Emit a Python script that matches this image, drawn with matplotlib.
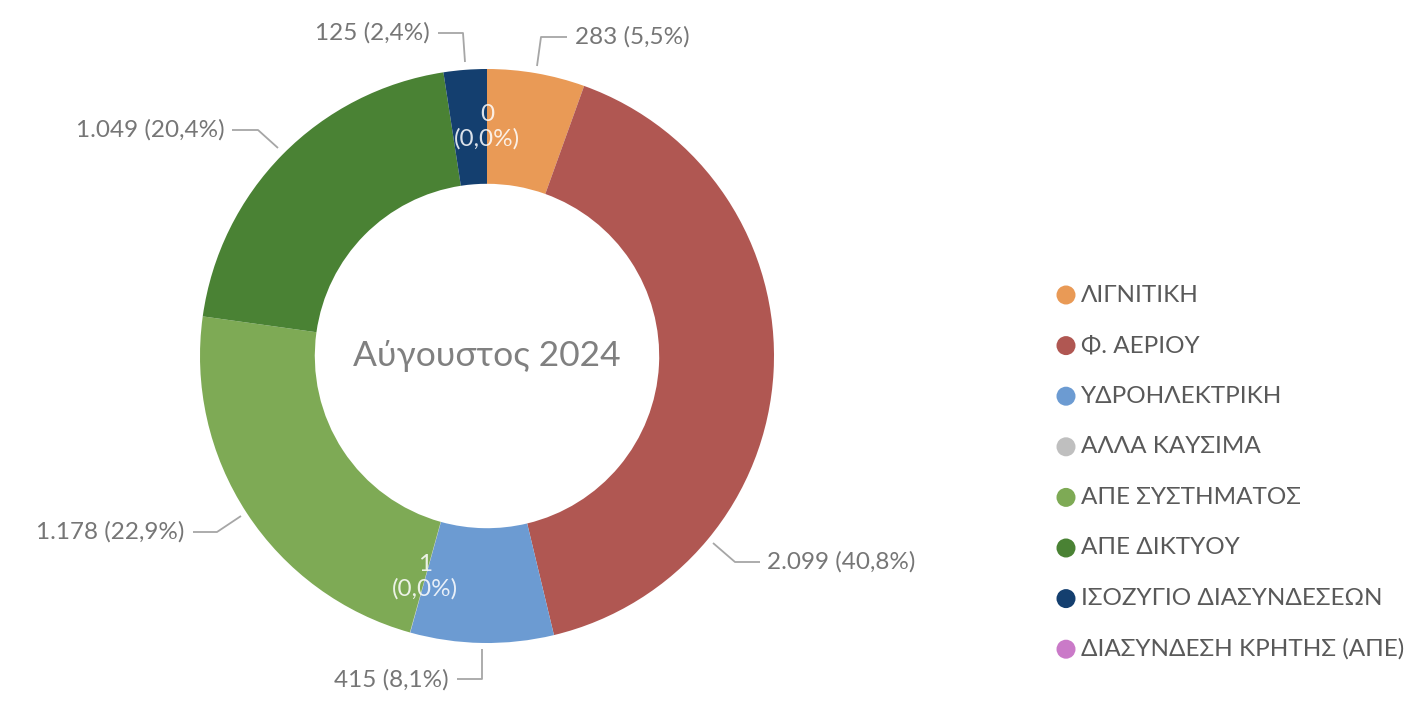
import matplotlib
matplotlib.use("Agg")
import matplotlib.pyplot as plt
from matplotlib.patches import Circle

categories = ["ΛΙΓΝΙΤΙΚΗ", "Φ. ΑΕΡΙΟΥ", "ΥΔΡΟΗΛΕΚΤΡΙΚΗ", "ΑΛΛΑ ΚΑΥΣΙΜΑ",
              "ΑΠΕ ΣΥΣΤΗΜΑΤΟΣ", "ΑΠΕ ΔΙΚΤΥΟΥ", "ΙΣΟΖΥΓΙΟ ΔΙΑΣΥΝΔΕΣΕΩΝ",
              "ΔΙΑΣΥΝΔΕΣΗ ΚΡΗΤΗΣ (ΑΠΕ)"]
values = [283, 2099, 415, 1, 1178, 1049, 125, 0]
value_labels = ["283", "2.099", "415", "1", "1.178", "1.049", "125", "0"]
pct_labels = ["5,5%", "40,8%", "8,1%", "0,0%", "22,9%", "20,4%", "2,4%", "0,0%"]
colors = ["#E99A56", "#B05752", "#6C9BD2", "#BFBFBF", "#7EAA55", "#4A8234",
          "#143F6F", "#CA7AC8"]
center_title = "Αύγουστος 2024"

W, H = 1424, 709
fig = plt.figure(figsize=(W / 100, H / 100), dpi=100)
ax = fig.add_axes([0, 0, 1, 1])

FONT = ["Lato", "DejaVu Sans"]
cx, cy, R = 487, 356, 287
ax.pie(values, colors=colors, startangle=-90, counterclock=True,
       center=(cx, cy), radius=R, frame=True,
       wedgeprops=dict(width=R * 0.4, linewidth=0))
ax.set_xlim(0, W)
ax.set_ylim(H, 0)
ax.axis("off")

ax.text(cx, cy, center_title, ha="center", va="center", fontsize=25.5,
        color="#808080", family=FONT)

lab_col = "#767676"
line_col = "#A6A6A6"
lab_fs = 17.5

# outside labels: (index, leader points, text x, text y, ha)
outside = [
    (0, [(537, 66), (541, 37), (567, 37)], 575, 37, "left"),
    (1, [(713, 543), (735, 562), (760, 562)], 767, 562, "left"),
    (2, [(482, 649), (482, 679), (457, 679)], 449, 680, "right"),
    (4, [(241, 516), (217, 532), (193, 532)], 184, 532, "right"),
    (5, [(278, 148), (258, 130), (232, 130)], 225, 130, "right"),
    (6, [(465, 62), (463, 33), (438, 33)], 430, 33, "right"),
]
for i, pts, tx, ty, ha in outside:
    xs, ys = zip(*pts)
    ax.plot(xs, ys, color=line_col, lw=1.3, solid_capstyle="butt")
    ax.text(tx, ty, f"{value_labels[i]} ({pct_labels[i]})", ha=ha, va="center",
            fontsize=lab_fs, color=lab_col, family=FONT)

# inside labels (tiny slices)
inside = [(3, 425, 577), (7, 487, 127)]
for i, tx, ty in inside:
    ax.text(tx, ty, f"{value_labels[i]}\n({pct_labels[i]})", ha="center",
            va="center", fontsize=lab_fs, color="white", alpha=0.85,
            family=FONT, linespacing=1.2)

# legend
leg_y0, leg_dy = 295, 50.6
for k, (cat, col) in enumerate(zip(categories, colors)):
    y = leg_y0 + k * leg_dy
    ax.add_patch(Circle((1066, y), 9.5, color=col, lw=0))
    ax.text(1081, y, cat, ha="left", va="center", fontsize=17.5,
            color="#595959", family=FONT)

fig.savefig("out.png", dpi=100)
